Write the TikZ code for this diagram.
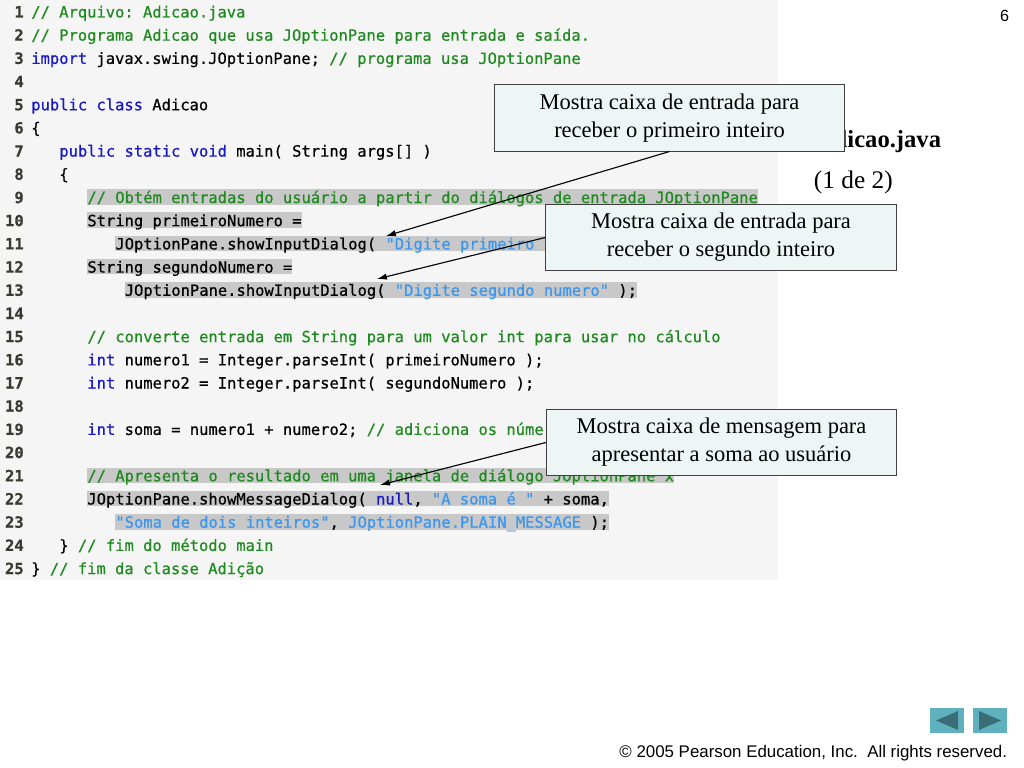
\documentclass[tikz,border=0pt]{standalone}
\usepackage{fontspec}
\setmainfont{Liberation Serif}
\setmonofont{DejaVu Sans Mono}[FakeBold=0.6]
\newfontfamily\arialfont{Liberation Sans}
\usetikzlibrary{arrows.meta}

\definecolor{codebg}{HTML}{F5F5F5}
\definecolor{hlgray}{HTML}{C8C8C8}
\definecolor{jgreen}{HTML}{1F8A1F}
\definecolor{jblue}{HTML}{1818C8}
\definecolor{jstring}{HTML}{3A96EE}
\definecolor{numgray}{HTML}{3A3A32}
\definecolor{boxfill}{HTML}{EEF5F5}
\definecolor{navfill}{HTML}{5FB1BE}
\definecolor{navdark}{HTML}{3B6D78}

\newcommand{\jkw}[1]{\textcolor{jblue}{#1}}
\newcommand{\jcm}[1]{\textcolor{jgreen}{#1}}
\newcommand{\jstr}[1]{\textcolor{jstring}{#1}}
\newcommand{\codefont}{\ttfamily\fontsize{11}{13}\selectfont}

\begin{document}
\begin{tikzpicture}[x=0.025cm,y=-0.025cm]
		\useasboundingbox (0,0) rectangle (1024,768);
		\fill[codebg] (0,0) rectangle (778,580);

		\begin{scope}[every node/.style={anchor=base east,inner sep=0pt,text=numgray,font=\ttfamily\bfseries\fontsize{11}{13}\selectfont}]
			\node (N1) at (24,17.5) {1};
			\node (N2) at (24,40.7) {2};
			\node (N3) at (24,63.9) {3};
			\node (N4) at (24,87.1) {4};
			\node (N5) at (24,110.3) {5};
			\node (N6) at (24,133.5) {6};
			\node (N7) at (24,156.6) {7};
			\node (N8) at (24,179.8) {8};
			\node (N9) at (24,203.0) {9};
			\node (N10) at (24,226.2) {10};
			\node (N11) at (24,249.4) {11};
			\node (N12) at (24,272.6) {12};
			\node (N13) at (24,295.8) {13};
			\node (N14) at (24,319.0) {14};
			\node (N15) at (24,342.2) {15};
			\node (N16) at (24,365.4) {16};
			\node (N17) at (24,388.5) {17};
			\node (N18) at (24,411.7) {18};
			\node (N19) at (24,434.9) {19};
			\node (N20) at (24,458.1) {20};
			\node (N21) at (24,481.3) {21};
			\node (N22) at (24,504.5) {22};
			\node (N23) at (24,527.7) {23};
			\node (N24) at (24,550.9) {24};
			\node (N25) at (24,574.1) {25};
		\end{scope}

		\begin{scope}[every node/.style={anchor=base west,inner sep=0pt,font=\codefont,text height=9.8pt,text depth=1.3pt},
			hl/.style={fill=hlgray}]
			\node (L1) at (31,17.5) {\jcm{// Arquivo: Adicao.java}};
			\node (L2) at (31,40.7) {\jcm{// Programa Adicao que usa JOptionPane para entrada e saída.}};
			\node (L3) at (31,63.9) {\jkw{import} javax.swing.JOptionPane; \jcm{// programa usa JOptionPane}};
			\node (L5) at (31,110.3) {\jkw{public class} Adicao};
			\node (L6) at (31,133.5) {\{};
			\node (L7) at (59.05,156.6) {\jkw{public static void} main( String args[] )};
			\node (L8) at (59.05,179.8) {\{};
			\node [hl] (L9) at (87.1,203.0) {\jcm{// Obtém entradas do usuário a partir do diálogos de entrada JOptionPane}};
			\node [hl] (L10) at (87.1,226.2) {String primeiroNumero =};
			\node [hl] (L11) at (115.15,249.4) {JOptionPane.showInputDialog( \jstr{"Digite primeiro numero"} );};
			\node [hl] (L12) at (87.1,272.6) {String segundoNumero =};
			\node [hl] (L13) at (124.5,295.8) {JOptionPane.showInputDialog( \jstr{"Digite segundo numero"} );};
			\node (L15) at (87.1,342.2) {\jcm{// converte entrada em String para um valor int para usar no cálculo}};
			\node (L16) at (87.1,365.4) {\jkw{int} numero1 = Integer.parseInt( primeiroNumero );};
			\node (L17) at (87.1,388.5) {\jkw{int} numero2 = Integer.parseInt( segundoNumero );};
			\node (L19) at (87.1,434.9) {\jkw{int} soma = numero1 + numero2; \jcm{// adiciona os números}};
			\node [hl] (L21) at (87.1,481.3) {\jcm{// Apresenta o resultado em uma janela de diálogo JOptionPane x}};
			\node [hl] (L22) at (87.1,504.5) {JOptionPane.showMessageDialog( \jkw{null}, \jstr{"A soma é "} + soma,};
			\node [hl] (L23) at (115.15,527.7) {\jstr{"Soma de dois inteiros"}, \jstr{JOptionPane.PLAIN\_MESSAGE} );};
			\node (L24) at (59.05,550.9) {\} \jcm{// fim do método main}};
			\node (L25) at (31,574.1) {\} \jcm{// fim da classe Adição}};
		\end{scope}

		\node [anchor=base west,font=\bfseries\fontsize{17.5}{21}\selectfont] (titulo) at (811,148) {Adicao.java};
		\node [anchor=base west,font=\fontsize{18}{22}\selectfont] (parte) at (809,188) {(1 de 2)};
		\node [anchor=base east,font=\arialfont\fontsize{11.5}{14}\selectfont] (pagina) at (1014,21.5) {6};

		\coordinate (T1) at (386,236);
		\coordinate (T2) at (377,279);
		\coordinate (T3) at (380,485);

		\begin{scope}[every node/.style={draw=black!75,line width=0.7pt,fill=boxfill,align=center,inner sep=0pt,
			minimum width=8.76cm,minimum height=1.65cm,font=\fontsize{16}{20}\selectfont}]
			\node (C1) at (669.5,118) {Mostra caixa de entrada para\\receber o primeiro inteiro};
			\node (C2) at (721,237.5) {Mostra caixa de entrada para\\receber o segundo inteiro};
			\node (C3) at (721.5,442.5) {Mostra caixa de mensagem para\\apresentar a soma ao usuário};
		\end{scope}

		\begin{scope}[every edge/.style={draw=black, line width=0.8pt}]
			\path [-{Latex[length=7pt,width=4.5pt]}] (C1.south) edge (T1);
			\path [-{Latex[length=7pt,width=4.5pt]}] (C2.west) edge (T2);
			\path [-{Latex[length=7pt,width=4.5pt]}] (C3.west) edge (T3);
		\end{scope}

		\fill [navfill] (930,708) rectangle (964,733);
		\fill [navdark] (936,720.5) -- (958,711) -- (958,730) -- cycle;
		\fill [navfill] (973,708) rectangle (1007,733);
		\fill [navdark] (979,711) -- (979,730) -- (1001,720.5) -- cycle;

		\node [anchor=base east,font=\arialfont\fontsize{12}{14}\selectfont] (direitos) at (1012,757) {© 2005 Pearson Education, Inc.\ \ All rights reserved.};
	\end{tikzpicture}
\end{document}
